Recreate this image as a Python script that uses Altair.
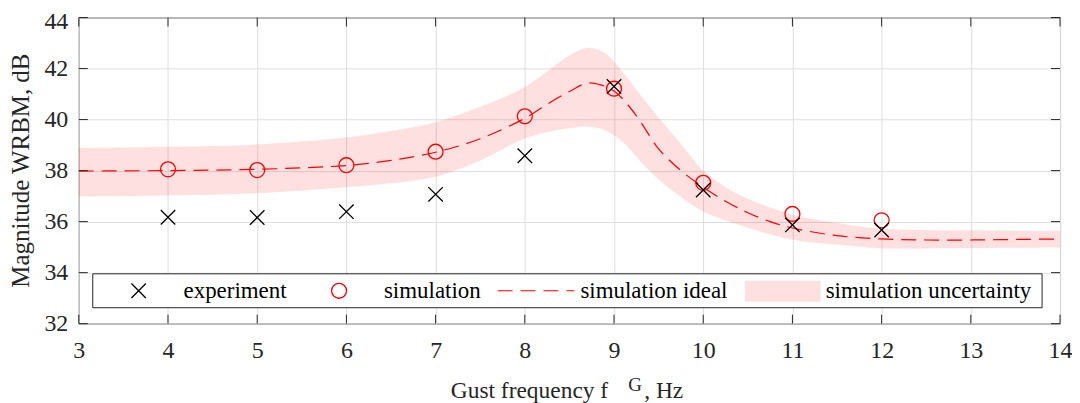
import altair as alt
import pandas as pd

# ---- data ----
freq = [4, 5, 6, 7, 8, 9, 10, 11, 12]
experiment = [36.17, 36.16, 36.39, 37.07, 38.58, 41.30, 37.24, 35.87, 35.67]
simulation = [38.05, 38.02, 38.21, 38.74, 40.13, 41.21, 37.52, 36.30, 36.05]

ideal_x = [3, 3.5, 4, 4.5, 5, 5.5, 6, 6.5, 7, 7.5, 8, 8.25, 8.5, 8.7, 8.85,
           9.0, 9.15, 9.3, 9.5, 9.75, 10, 10.25, 10.5, 10.75, 11, 11.5, 12,
           12.5, 13, 13.5, 14]
ideal_y = [37.98, 37.99, 38.0, 38.02, 38.05, 38.11, 38.2, 38.4, 38.72, 39.25,
           40.05, 40.6, 41.1, 41.43, 41.36, 41.12, 40.6, 39.9, 38.85, 38.0,
           37.35, 36.8, 36.35, 36.0, 35.75, 35.45, 35.32, 35.28, 35.28, 35.3,
           35.32]

band_x = [3, 4, 5, 6, 6.5, 7, 7.5, 8, 8.35, 8.55, 8.72, 8.9, 9.1, 9.3, 9.5,
          9.75, 10, 10.25, 10.5, 11, 11.5, 12, 13, 14]
band_hi = [38.88, 38.93, 39.03, 39.3, 39.55, 39.9, 40.5, 41.28, 42.15, 42.62,
           42.82, 42.6, 41.85, 40.95, 40.08, 39.05, 38.0, 37.35, 36.9, 36.27,
           35.95, 35.72, 35.66, 35.64]
band_lo = [36.98, 37.02, 37.11, 37.35, 37.5, 37.76, 38.4, 39.26, 39.58, 39.68,
           39.72, 39.58, 39.12, 38.35, 37.65, 36.97, 36.4, 36.05, 35.76, 35.29,
           35.1, 34.96, 34.97, 34.99]

x_ticks = list(range(3, 15))
y_ticks = list(range(32, 45, 2))
legend_labels = ["experiment", "simulation", "simulation ideal", "simulation uncertainty"]
x_title = ["Gust frequency f", "G", ", Hz"]
y_title = "Magnitude WRBM, dB"

# ---- frames ----
pts = pd.DataFrame({"f": freq, "exp": experiment, "sim": simulation})
ideal = pd.DataFrame({"f": ideal_x, "y": ideal_y})
band = pd.DataFrame({"f": band_x, "hi": band_hi, "lo": band_lo})
xt = pd.DataFrame({"v": x_ticks})
yt = pd.DataFrame({"v": y_ticks})
one = alt.Data(values=[{}])

W, H = 984, 307
FONT = "Liberation Serif"
AX = "#262626"
RED = "#ff0000"
CROSS = "M-1,-1L1,1M-1,1L1,-1"

xs = alt.Scale(domain=[3, 14], nice=False, zero=False)
ys = alt.Scale(domain=[32, 44], nice=False, zero=False)
xax = alt.Axis(values=x_ticks, grid=True, ticks=False, domain=False, labelFontSize=24,
               labelPadding=15, title=None, labelFlush=False)
yax = alt.Axis(values=y_ticks, grid=True, ticks=False, domain=False, labelFontSize=24,
               labelPadding=11, title=None,
               labelOffset={"condition": {"test": "datum.value === 44", "value": 4.5}, "value": 0})


def X(field):
    return alt.X(field, scale=xs, axis=xax)


def Y(field):
    return alt.Y(field, scale=ys, axis=yax)


band_layer = alt.Chart(band).mark_area(color=RED, opacity=0.12, interpolate="catmull-rom").encode(
    x=X("f:Q"), y=Y("hi:Q"), y2="lo:Q")

ideal_layer = alt.Chart(ideal).mark_line(color=RED, strokeWidth=1.2, strokeDash=[15, 8],
                                         interpolate="catmull-rom").encode(
    x=X("f:Q"), y=Y("y:Q"))

sim_layer = alt.Chart(pts).mark_point(shape="circle", filled=False, color=RED, size=225,
                                      strokeWidth=1.3, opacity=1).encode(
    x=X("f:Q"), y=Y("sim:Q"))

exp_layer = alt.Chart(pts).mark_point(shape=CROSS, filled=False, color="black", size=210,
                                      strokeWidth=1.3, opacity=1).encode(
    x=X("f:Q"), y=Y("exp:Q"))

tick_b = alt.Chart(xt).mark_rule(color=AX, strokeWidth=1).encode(
    x=X("v:Q"), y=alt.value(H), y2=alt.value(H - 9))
tick_t = alt.Chart(xt).mark_rule(color=AX, strokeWidth=1).encode(
    x=X("v:Q"), y=alt.value(0), y2=alt.value(9))
tick_l = alt.Chart(yt).mark_rule(color=AX, strokeWidth=1).encode(
    y=Y("v:Q"), x=alt.value(0), x2=alt.value(9))
tick_r = alt.Chart(yt).mark_rule(color=AX, strokeWidth=1).encode(
    y=Y("v:Q"), x=alt.value(W), x2=alt.value(W - 9))

# ---- legend ----
LY = 274
leg_box = alt.Chart(one).mark_rect(fill="white", stroke=AX, strokeWidth=1).encode(
    x=alt.value(14), x2=alt.value(966), y=alt.value(257), y2=alt.value(291))
leg_cross = alt.Chart(one).mark_point(shape=CROSS, filled=False, color="black", size=210,
                                      strokeWidth=1.3, opacity=1).encode(
    x=alt.value(60), y=alt.value(LY))
leg_circ = alt.Chart(one).mark_point(shape="circle", filled=False, color=RED, size=225,
                                     strokeWidth=1.3, opacity=1).encode(
    x=alt.value(261), y=alt.value(LY))
leg_dash = alt.Chart(one).mark_rule(color=RED, strokeWidth=1.2, strokeDash=[15, 8]).encode(
    x=alt.value(420), x2=alt.value(497), y=alt.value(LY))
leg_band = alt.Chart(one).mark_rect(color=RED, opacity=0.12).encode(
    x=alt.value(668), x2=alt.value(744), y=alt.value(264), y2=alt.value(285))
leg_texts = []
for lbl, xp in zip(legend_labels, [105, 306, 503, 749]):
    leg_texts.append(alt.Chart(one).mark_text(text=lbl, align="left", baseline="alphabetic",
                                              font=FONT, fontSize=23, color="black").encode(
        x=alt.value(xp), y=alt.value(281)))

# ---- titles ----
t_main = alt.Chart(one).mark_text(text=x_title[0], align="left", baseline="alphabetic",
                                  font=FONT, fontSize=23.5, color=AX).encode(
    x=alt.value(373), y=alt.value(382))
t_sup = alt.Chart(one).mark_text(text=x_title[1], align="left", baseline="alphabetic",
                                 font=FONT, fontSize=19, color=AX).encode(
    x=alt.value(551), y=alt.value(375))
t_end = alt.Chart(one).mark_text(text=x_title[2], align="left", baseline="alphabetic",
                                 font=FONT, fontSize=23.5, color=AX).encode(
    x=alt.value(567), y=alt.value(382))
t_y = alt.Chart(one).mark_text(text=y_title, align="center", baseline="alphabetic", angle=270,
                               font=FONT, fontSize=25, color=AX).encode(
    x=alt.value(-50), y=alt.value(H / 2))

chart = alt.layer(
    band_layer, ideal_layer, sim_layer, exp_layer,
    tick_b, tick_t, tick_l, tick_r,
    leg_box, leg_cross, leg_circ, leg_dash, leg_band, *leg_texts,
    t_main, t_sup, t_end, t_y,
).properties(
    width=W, height=H,
    autosize=alt.AutoSizeParams(type="none"),
    padding={"left": 71, "top": 9, "right": 12, "bottom": 79},
    background="white",
).configure_view(
    stroke=AX, strokeWidth=1
).configure_axis(
    gridColor="#dedede", gridWidth=1, labelColor=AX, labelFont=FONT
)

chart.save("out.html", embed_options={"renderer": "svg", "actions": False})
